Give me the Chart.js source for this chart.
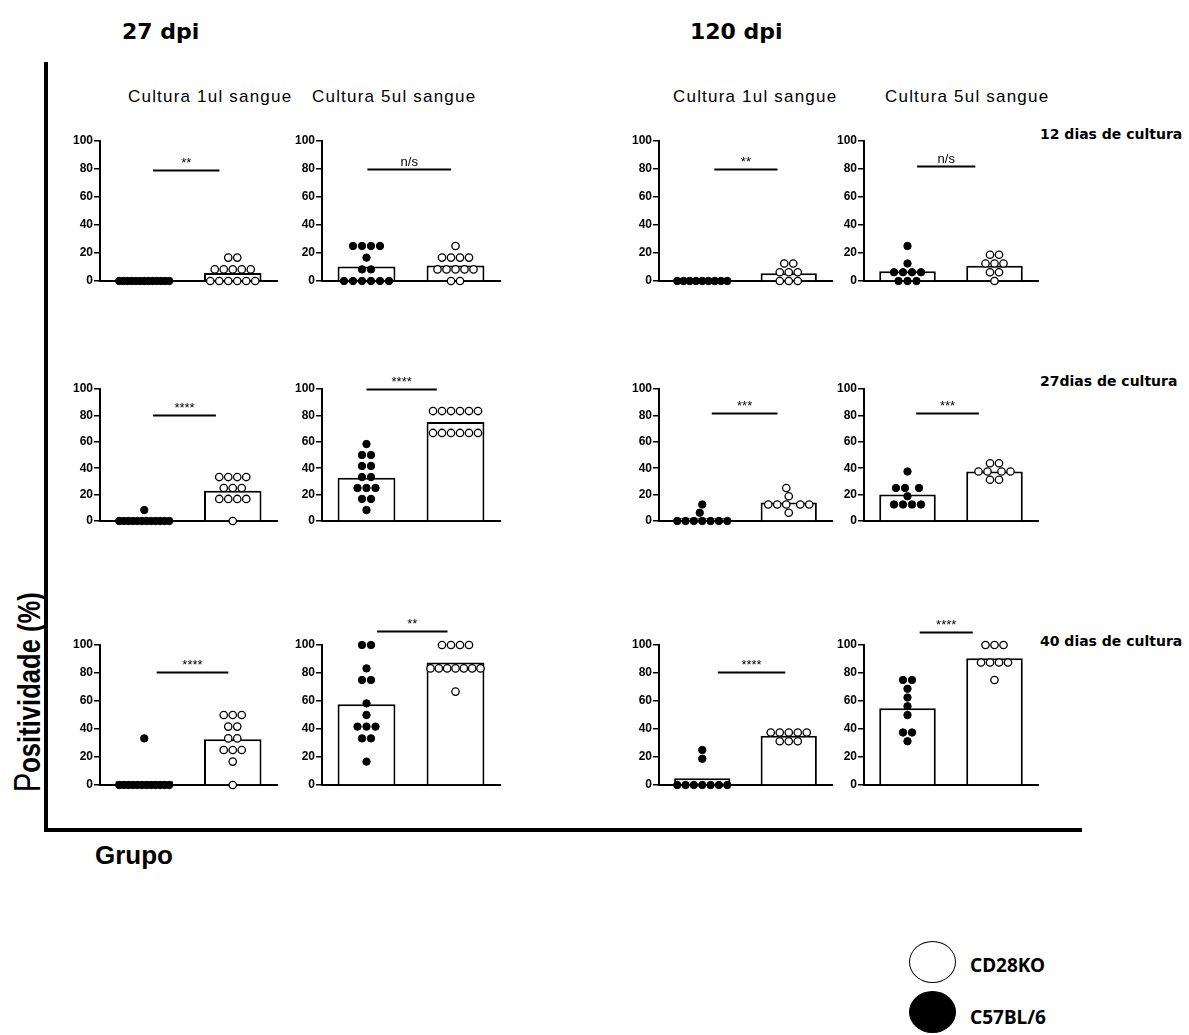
<!DOCTYPE html>
<html>
<head>
<meta charset="utf-8">
<script src="https://cdn.jsdelivr.net/npm/chart.js@4.4.1/dist/chart.umd.min.js"></script>
<style>
  html, body { margin:0; padding:0; background:#fff; }
  #fig { position:relative; width:1189px; height:1035px; overflow:hidden; color:#000;
         font-family:"Liberation Sans", Arial, sans-serif; }
  #fig canvas { position:absolute; }
  .t { position:absolute; white-space:nowrap; line-height:1; }
  .dpi  { font:bold 22px "DejaVu Sans", sans-serif; }
  .cult { font-size:17px; letter-spacing:1.2px; }
  .days { font:bold 14px "DejaVu Sans", sans-serif; }
  .ylab { font-weight:bold; font-size:32px; transform-origin:0 0; }
  .ylab span { font-weight:normal; font-size:36px; }
  .grp  { font-weight:bold; font-size:26px; }
  .leg  { font:bold 19px "Noto Sans", sans-serif; }
  .rule { position:absolute; background:#000; }
  .dot  { position:absolute; width:47px; height:42px; border-radius:50%; box-sizing:border-box; border:1.5px solid #000; }
</style>
</head>
<body>
<div id="fig">
  <div class="t dpi" style="left:122px;top:19px">27 dpi</div>
  <div class="t dpi" style="left:690px;top:19px">120 dpi</div>

  <div class="t cult" style="left:128px;top:88px">Cultura 1ul sangue</div>
  <div class="t cult" style="left:312px;top:88px">Cultura 5ul sangue</div>
  <div class="t cult" style="left:673px;top:88px">Cultura 1ul sangue</div>
  <div class="t cult" style="left:885px;top:88px">Cultura 5ul sangue</div>

  <div class="t days" style="left:1040px;top:126px">12 dias de cultura</div>
  <div class="t days" style="left:1040px;top:373px">27dias de cultura</div>
  <div class="t days" style="left:1040px;top:633px">40 dias de cultura</div>

  <div class="rule" style="left:44px;top:62px;width:4px;height:770px"></div>
  <div class="rule" style="left:44px;top:828px;width:1038px;height:4px"></div>
  <div id="ylab" class="t ylab"><span>P</span>ositividade (%)</div>
  <div class="t grp" style="left:95px;top:842px">Grupo</div>

  <div class="dot" style="left:909px;top:941px;background:#fff"></div>
  <div class="t leg" style="left:970px;top:952px">CD28KO</div>
  <div class="dot" style="left:909px;top:991px;background:#000"></div>
  <div class="t leg" style="left:970px;top:1004px">C57BL/6</div>
</div>

<script>
// groups on the x axis of every panel
const GROUPS = ['C57BL/6', 'CD28KO']

// % positive cultures per mouse, [C57BL/6, CD28KO] per panel
// rows: 12, 27, 40 days of culture; columns: 27 dpi 1ul, 27 dpi 5ul, 120 dpi 1ul, 120 dpi 5ul
const D12_27_1UL  = [[0,0,0,0,0,0,0,0,0,0,0,0,0],
                     [16.7,16.7,8.3,8.3,8.3,8.3,8.3,0,0,0,0,0,0]]
const D12_27_5UL  = [[25,25,25,25,16.7,8.3,8.3,0,0,0,0,0,0],
                     [25,16.7,16.7,16.7,16.7,8.3,8.3,8.3,8.3,8.3,0,0]]
const D12_120_1UL = [[0,0,0,0,0,0,0,0,0],
                     [12.5,12.5,6.25,6.25,6.25,0,0,0]]
const D12_120_5UL = [[25,12.5,6.25,6.25,6.25,6.25,0,0,0],
                     [18.75,18.75,12.5,12.5,12.5,6.25,6.25,0]]

const D27_27_1UL  = [[8.3,0,0,0,0,0,0,0,0,0,0,0,0],
                     [33.3,33.3,33.3,33.3,25,25,25,16.7,16.7,16.7,16.7,0]]
const D27_27_5UL  = [[58.3,50,50,41.7,41.7,33.3,33.3,25,25,25,16.7,16.7,8.3],
                     [83.3,83.3,83.3,83.3,83.3,83.3,66.7,66.7,66.7,66.7,66.7,66.7]]
const D27_120_1UL = [[12.5,6.25,0,0,0,0,0,0,0],
                     [25,18.75,12.5,12.5,12.5,12.5,12.5,6.25]]
const D27_120_5UL = [[37.5,25,25,25,18.75,12.5,12.5,12.5,12.5],
                     [43.75,43.75,37.5,37.5,37.5,37.5,31.25,31.25]]

const D40_27_1UL  = [[33.3,0,0,0,0,0,0,0,0,0,0,0,0],
                     [50,50,50,41.7,41.7,33.3,33.3,25,25,25,16.7,0]]
const D40_27_5UL  = [[100,100,83.3,75,75,58.3,50,41.7,41.7,41.7,33.3,33.3,16.7],
                     [100,100,100,100,83.3,83.3,83.3,83.3,83.3,83.3,83.3,66.7]]
const D40_120_1UL = [[25,18.75,0,0,0,0,0,0,0],
                     [37.5,37.5,37.5,37.5,37.5,31.25,31.25,31.25]]
const D40_120_5UL = [[75,75,68.75,62.5,56.25,50,37.5,37.5,31.25],
                     [100,100,100,87.5,87.5,87.5,87.5,75]]

// bar heights (group means)
const MEANS = [
  [0, 5.8],   [10.3, 11.1], [0, 5.5],    [6.9, 10.9],
  [0.6, 22.9], [32.7, 75],  [2.1, 14.1], [20.1, 37.5],
  [2.6, 32.6], [57.7, 87.5], [4.9, 35.2], [54.9, 90.6],
]
const SIG_LABELS = ['**', 'n/s', '**', 'n/s', '****', '****', '***', '***', '****', '**', '****', '****']
const SIG_LEVELS = [79, 80, 80, 82, 80, 100, 81.5, 81.5, 80.7, 110, 81, 109]
const Y_TICKS = [0, 20, 40, 60, 80, 100]

const PANEL_DATA = [
  D12_27_1UL, D12_27_5UL, D12_120_1UL, D12_120_5UL,
  D27_27_1UL, D27_27_5UL, D27_120_1UL, D27_120_5UL,
  D40_27_1UL, D40_27_5UL, D40_120_1UL, D40_120_5UL,
]

// page layout: plot box of each column / row (value 0..100)
const COL_LEFT  = [100, 322, 659, 864]
const COL_WIDTH = [177, 178, 173, 174]
const ROW_TOP    = [141, 389, 645]
const ROW_HEIGHT = [140, 132, 140]
// horizontal extent of the comparison bar, in group units (0 = first group, 1 = second)
const SIG_SPAN = [
  [0.10, 0.85], [0.01, 0.95], [0.14, 0.87], [0.11, 0.78],
  [0.10, 0.81], [0.00, 0.79], [0.11, 0.87], [0.10, 0.82],
  [0.14, 0.95], [0.12, 0.91], [0.18, 0.96], [0.14, 0.75],
]

const Y_AXIS_W = 34
const PAD = { top:30, right:6, bottom:8, left:0 }
const DOT_R = 3.7
const DOT_STEP = 9
const ROW_SPAN = 50
const TICK_FONT = { family:'"Liberation Sans", Arial, sans-serif', size:12, weight:'bold' }

Chart.defaults.animation = false
Chart.defaults.devicePixelRatio = 1

// comparison bar with its star / n/s label
const sigPlugin = {
  id: 'sig',
  afterDatasetsDraw(chart, args, o) {
    if (!o || !o.label) return
    const { ctx } = chart
    const xs = chart.scales.x2, ys = chart.scales.y
    const xa = xs.getPixelForValue(o.from), xb = xs.getPixelForValue(o.to)
    const yy = Math.round(ys.getPixelForValue(o.level)) + 0.5
    ctx.save()
    ctx.strokeStyle = '#000'
    ctx.lineWidth = 2
    ctx.beginPath(); ctx.moveTo(xa, yy); ctx.lineTo(xb, yy); ctx.stroke()
    ctx.fillStyle = '#000'
    ctx.font = '13px "Liberation Sans", Arial, sans-serif'
    ctx.textAlign = 'center'
    ctx.textBaseline = 'alphabetic'
    ctx.fillText(o.label, (xa + xb) / 2, yy - 4)
    ctx.restore()
  },
}

// spread equal values sideways, widening the middle gap where a row would touch the one below
function _rowXs(n, step, gap) {
  const xs = []
  for (let i = 0; i < n; i++) {
    const o = (i - (n - 1) / 2) * step
    xs.push(o < 0 ? o - gap / 2 : o > 0 ? o + gap / 2 : -gap / 2)
  }
  return xs
}

function _swarm(values, pxPerY) {
  const rows = []
  ;[...values].sort((a, b) => a - b).forEach(v => {
    const last = rows[rows.length - 1]
    if (last && last.v === v) last.n++
    else rows.push({ v, n: 1 })
  })
  const placed = []
  rows.forEach(({ v, n }) => {
    const py = v * pxPerY
    const step = n > 1 && (n - 1) * DOT_STEP > ROW_SPAN ? ROW_SPAN / (n - 1) : DOT_STEP
    let gap = 0, xs
    for (;;) {
      xs = _rowXs(n, step, gap)
      const hit = xs.some(x => placed.some(p => Math.hypot(p.dx - x, p.py - py) < DOT_STEP - 0.5))
      if (!hit || (n - 1) * step + gap > ROW_SPAN + 24) break
      gap += 1
    }
    xs.forEach(x => placed.push({ dx: x, py, v }))
  })
  return placed
}

function _points(values, group, plotW, plotH) {
  const unit = plotW / 2
  return _swarm(values, plotH / 100).map(p => ({ x: group + p.dx / unit, y: p.v }))
}

function _panel(i) {
  const col = i % 4, row = Math.floor(i / 4)
  const plotW = COL_WIDTH[col], plotH = ROW_HEIGHT[row]
  const [wt, ko] = PANEL_DATA[i]

  const cv = document.createElement('canvas')
  cv.width = Y_AXIS_W + plotW + PAD.right
  cv.height = PAD.top + plotH + PAD.bottom + 2
  document.getElementById('fig').appendChild(cv)

  const chart = new Chart(cv, {
    type: 'bar',
    data: {
      labels: GROUPS,
      datasets: [
        { type:'bar', data: MEANS[i], backgroundColor:'#fff', borderColor:'#000', borderWidth:2,
          grouped:false, barPercentage:0.65, categoryPercentage:1, order:2 },
        { type:'scatter', data: _points(wt, 0, plotW, plotH), xAxisID:'x2', clip:false, order:1,
          pointRadius:DOT_R, pointBackgroundColor:'#000', pointBorderColor:'#000', pointBorderWidth:1 },
        { type:'scatter', data: _points(ko, 1, plotW, plotH), xAxisID:'x2', clip:false, order:1,
          pointRadius:DOT_R, pointBackgroundColor:'#fff', pointBorderColor:'#000', pointBorderWidth:1.3 },
      ],
    },
    options: {
      responsive:false, events:[],
      layout:{ padding: PAD },
      plugins:{
        legend:{ display:false }, tooltip:{ enabled:false },
        sig:{ label: SIG_LABELS[i], level: SIG_LEVELS[i], from: SIG_SPAN[i][0], to: SIG_SPAN[i][1] },
      },
      scales:{
        x:{ type:'category', offset:true, grid:{ display:false, drawTicks:false }, ticks:{ display:false },
            border:{ color:'#000', width:2 }, afterFit: s => { s.height = 2 } },
        x2:{ type:'linear', min:-0.5, max:1.5, offset:false, display:false },
        y:{ min:0, max:100,
            afterBuildTicks: s => { s.ticks = Y_TICKS.map(v => ({ value: v })) },
            ticks:{ color:'#000', font: TICK_FONT, padding:1 },
            grid:{ drawOnChartArea:false, tickLength:6, color:'#000', lineWidth:1.5 },
            border:{ color:'#000', width:2 },
            afterFit: s => { s.width = Y_AXIS_W } },
      },
    },
    plugins:[sigPlugin],
  })

  const ca = chart.chartArea
  cv.style.left = (COL_LEFT[col] - ca.left) + 'px'
  cv.style.top = (ROW_TOP[row] - ca.top) + 'px'
}

PANEL_DATA.forEach((_, i) => _panel(i))

// rotated y title, centred on the left rule
const yl = document.getElementById('ylab')
const w = yl.offsetWidth, h = yl.offsetHeight
yl.style.left = (28 - h / 2) + 'px'
yl.style.top = (692 + w * 0.8 / 2) + 'px'
yl.style.transform = 'rotate(-90deg) scaleX(0.8)'
</script>
</body>
</html>
